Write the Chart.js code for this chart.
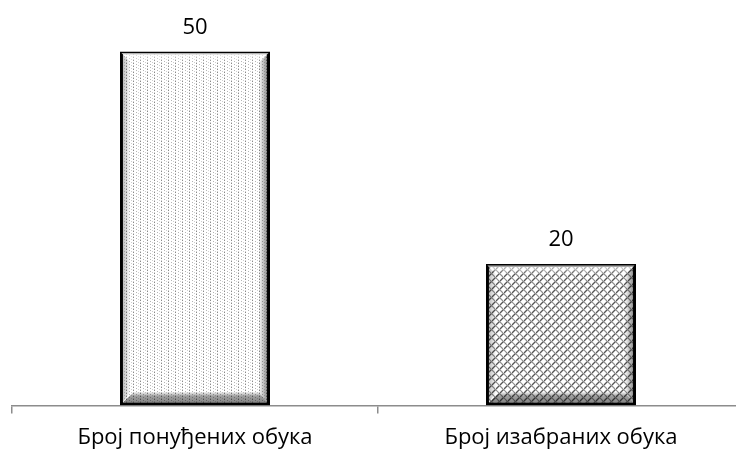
<!DOCTYPE html>
<html>
<head>
<meta charset="utf-8">
<script src="https://cdn.jsdelivr.net/npm/chart.js@4.4.0/dist/chart.umd.min.js"></script>
<style>
  html, body { margin: 0; padding: 0; background: #fff; overflow: hidden; }
  #wrap { width: 756px; height: 462px; }
</style>
</head>
<body>
<div id="wrap"><canvas id="barChart"></canvas></div>
<script>
// подаци
const categories = ["Број понуђених обука", "Број изабраних обука"];
const values = [50, 20];

// шара за први стубац - ситне тачкице у колонама
function dotPattern() {
    const c = document.createElement("canvas");
    c.width = 7; c.height = 3;
    const g = c.getContext("2d");
    g.fillStyle = "#ffffff";
    g.fillRect(0, 0, 7, 3);
    g.fillStyle = "#8a8a8a";
    g.fillRect(0, 0, 1, 1);
    g.fillStyle = "#b4b4b4";
    g.fillRect(3, 1, 1, 1);
    g.fillStyle = "#cfcfcf";
    g.fillRect(0, 2, 1, 1);
    g.fillRect(5, 2, 1, 1);
    return g.createPattern(c, "repeat");
}

// шара за други стубац - плетеница
function weavePattern() {
    const c = document.createElement("canvas");
    c.width = 8; c.height = 8;
    const g = c.getContext("2d");
    g.fillStyle = "#ffffff";
    g.fillRect(0, 0, 8, 8);
    g.lineCap = "round";
    g.strokeStyle = "#555555";
    g.lineWidth = 1.4;
    g.beginPath();
    g.moveTo(0.5, 4.5); g.lineTo(3.5, 1.5);
    g.moveTo(4.5, 8.5); g.lineTo(7.5, 5.5);
    g.moveTo(4.5, 0.5); g.lineTo(5.5, -0.5);
    g.moveTo(-3.5, 8.5); g.lineTo(-0.5, 5.5);
    g.stroke();
    g.strokeStyle = "#8e8e8e";
    g.lineWidth = 1.1;
    g.beginPath();
    g.moveTo(3.5, 1.5); g.lineTo(6.5, 4.5);
    g.moveTo(-0.5, 5.5); g.lineTo(2.5, 8.5);
    g.moveTo(7.5, 5.5); g.lineTo(10.5, 8.5);
    g.moveTo(-0.5, -2.5); g.lineTo(2.5, 0.5);
    g.stroke();
    return g.createPattern(c, "repeat");
}

// сенчење ивица стубова и вредности изнад њих
const bevelPlugin = {
    id: "bevel",
    afterDatasetsDraw(chart) {
        const ctx = chart.ctx;
        const meta = chart.getDatasetMeta(0);
        meta.data.forEach((bar, i) => {
            const l = bar.x - bar.width / 2 + 1.5;
            const r = bar.x + bar.width / 2 - 1.5;
            const t = bar.y + 1.5;
            const b = bar.base - 1.5;
            ctx.save();
            // доња ивица
            let gr = ctx.createLinearGradient(0, b - 12, 0, b);
            gr.addColorStop(0, "rgba(0,0,0,0.05)");
            gr.addColorStop(0.35, "rgba(0,0,0,0.38)");
            gr.addColorStop(1, "rgba(0,0,0,0.5)");
            ctx.fillStyle = gr;
            ctx.beginPath();
            ctx.moveTo(l, b); ctx.lineTo(l + 12, b - 12); ctx.lineTo(r - 10, b - 12); ctx.lineTo(r, b);
            ctx.closePath(); ctx.fill();
            // десна ивица
            gr = ctx.createLinearGradient(r - 10, 0, r, 0);
            gr.addColorStop(0, "rgba(0,0,0,0)");
            gr.addColorStop(1, "rgba(0,0,0,0.5)");
            ctx.fillStyle = gr;
            ctx.beginPath();
            ctx.moveTo(r, t); ctx.lineTo(r - 10, t + 10); ctx.lineTo(r - 10, b - 12); ctx.lineTo(r, b);
            ctx.closePath(); ctx.fill();
            // лева ивица
            gr = ctx.createLinearGradient(l, 0, l + 9, 0);
            gr.addColorStop(0, "rgba(0,0,0,0.3)");
            gr.addColorStop(1, "rgba(0,0,0,0)");
            ctx.fillStyle = gr;
            ctx.beginPath();
            ctx.moveTo(l, t); ctx.lineTo(l + 9, t + 9); ctx.lineTo(l + 9, b - 12); ctx.lineTo(l, b);
            ctx.closePath(); ctx.fill();
            // горња ивица
            gr = ctx.createLinearGradient(0, t, 0, t + 9);
            gr.addColorStop(0, "rgba(255,255,255,0.75)");
            gr.addColorStop(1, "rgba(255,255,255,0)");
            ctx.fillStyle = gr;
            ctx.beginPath();
            ctx.moveTo(l, t); ctx.lineTo(r, t); ctx.lineTo(r - 9, t + 9); ctx.lineTo(l + 9, t + 9);
            ctx.closePath(); ctx.fill();
            ctx.restore();

            // вредност
            ctx.save();
            ctx.fillStyle = "#000";
            ctx.font = "22px 'Open Sans', sans-serif";
            ctx.textAlign = "center";
            ctx.textBaseline = "middle";
            ctx.fillText(values[i], bar.x, bar.y - 24);
            ctx.restore();
        });
    }
};

const ctx = document.getElementById("barChart").getContext("2d");

const chart = new Chart(ctx, {
    type: "bar",
    data: {
        labels: categories,
        datasets: [{
            data: values,
            backgroundColor: [dotPattern(), weavePattern()],
            borderColor: "#000000",
            borderWidth: 3,
            borderSkipped: false,
            categoryPercentage: 1,
            barPercentage: 0.41,
        }],
    },
    options: {
        responsive: true,
        maintainAspectRatio: false,
        animation: false,
        layout: { padding: { left: 12, right: 12, top: 16, bottom: 0 } },
        plugins: {
            legend: { display: false },
            tooltip: { enabled: false },
        },
        scales: {
            x: {
                grid: {
                    drawOnChartArea: false,
                    drawTicks: true,
                    tickLength: 8,
                    color: "#8c8c8c",
                    lineWidth: 1.5,
                },
                border: { color: "#8c8c8c", width: 1.5 },
                ticks: {
                    color: "#000",
                    padding: 11,
                    font: { family: "'Open Sans', sans-serif", size: 22 },
                },
            },
            y: {
                display: false,
                min: 0,
                max: 55,
            },
        },
    },
    plugins: [bevelPlugin],
});
</script>
</body>
</html>
